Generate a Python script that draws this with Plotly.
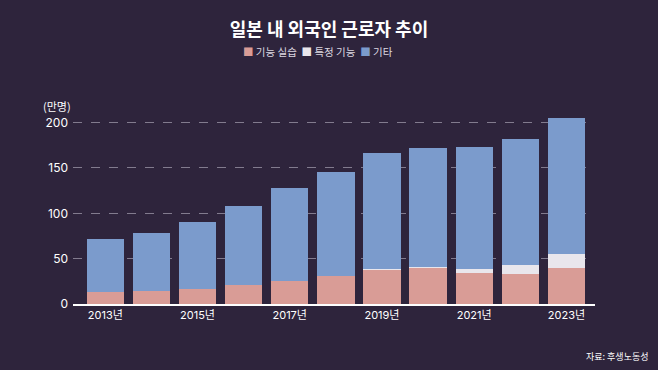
import plotly.graph_objects as go

years = ["2013", "2014", "2015", "2016", "2017", "2018", "2019", "2020", "2021", "2022", "2023"]
tick_years = ["2013", "2015", "2017", "2019", "2021", "2023"]
tick_labels = ["2013년", "2015년", "2017년", "2019년", "2021년", "2023년"]
trainee = [13.6, 14.5, 16.8, 21.1, 25.8, 30.8, 38.4, 40.2, 34.5, 33.0, 40.0]
skilled = [0, 0, 0, 0, 0, 0, 0.05, 0.8, 4.0, 9.5, 15.0]
other = [58.2, 64.3, 74.0, 87.3, 102.1, 115.2, 127.5, 131.4, 134.2, 139.8, 149.9]
y_ticks = [0, 50, 100, 150, 200]
series_names = ["기능 실습", "특정 기능", "기타"]
colors = ["#d99c96", "#e9e6ec", "#7b9bcc"]

FONT = "Noto Sans CJK KR"
NUMFONT = "Inter, Noto Sans CJK KR"
fig = go.Figure()
for vals, name, col in zip([trainee, skilled, other], series_names, colors):
    fig.add_bar(x=years, y=vals, name=name, marker_color=col, marker_line_width=0)

legend_text = "&nbsp;&nbsp;".join(
    f'<span style="color:{c}">■</span> {n}' for n, c in zip(series_names, colors))

fig.update_layout(
    barmode="stack",
    bargap=0.19,
    width=658, height=370,
    margin=dict(l=73, r=63, t=109, b=66),
    paper_bgcolor="#2e243c",
    plot_bgcolor="rgba(0,0,0,0)",
    font=dict(family=FONT, color="#ffffff"),
    title=dict(text="<b>일본 내 외국인 근로자 추이</b>", x=0.5, xanchor="center",
               y=1 - 30 / 370, yanchor="middle", yref="container",
               font=dict(size=18, color="#ffffff", family=FONT)),
    showlegend=False,
    xaxis=dict(tickmode="array", tickvals=tick_years, ticktext=tick_labels,
               range=[-0.7, 10.62], showline=True, linecolor="#ffffff", linewidth=1.5,
               showgrid=False, ticks="", tickfont=dict(size=11, color="#ffffff", family=NUMFONT)),
    yaxis=dict(range=[0, 215], tickvals=y_ticks, showgrid=True, gridcolor="rgba(200,195,210,0.55)",
               griddash="dash", gridwidth=1, zeroline=False, ticks="",
               tickfont=dict(size=12, color="#ffffff", family=NUMFONT), ticklabelstandoff=4),
    annotations=[
        dict(text=legend_text, xref="paper", yref="paper", x=(318 - 73) / 522,
             y=(304 - 52) / 195, xanchor="center", yanchor="middle", showarrow=False,
             font=dict(size=10.5, color="#dcd8e0", family=FONT)),
        dict(text="(만명)", xref="paper", yref="paper", x=0.0, y=(304 - 106) / 195,
             xanchor="right", yanchor="middle", showarrow=False,
             font=dict(size=11, color="#ffffff", family=FONT)),
        dict(text="자료: 후생노동성", xref="paper", yref="paper", x=(650 - 73) / 522,
             y=(304 - 356) / 195, xanchor="right", yanchor="middle", showarrow=False,
             font=dict(size=9, color="#ffffff", family=FONT)),
    ],
)
fig.write_html("out.html", config={"displayModeBar": False})

with open("out.html", encoding="utf-8") as f:
    html = f.read()
html = html.replace("<body>", '<body style="margin:0;padding:0;background:#2e243c">', 1)
with open("out.html", "w", encoding="utf-8") as f:
    f.write(html)
